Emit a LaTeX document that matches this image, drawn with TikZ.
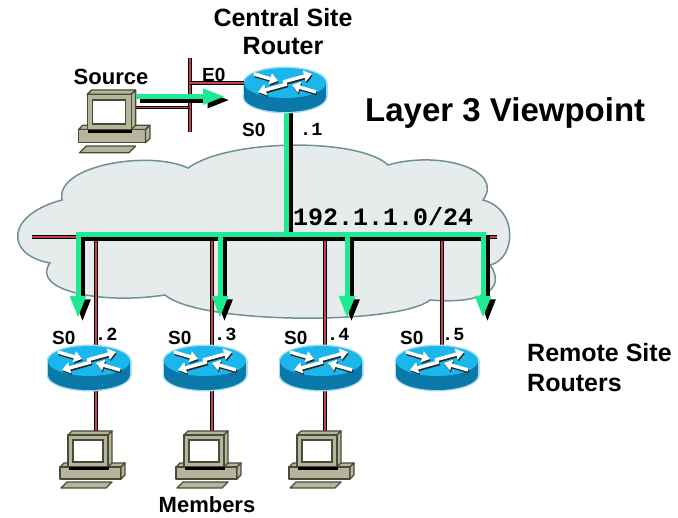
\documentclass[tikz,border=0pt]{standalone}
\usepackage{fontspec}
\setmainfont{Liberation Sans}
\setmonofont{Liberation Mono}
\usepackage{tikz}
\usetikzlibrary{arrows.meta,calc,positioning}
\definecolor{Flow}{HTML}{1FEA94}
\definecolor{Cable}{HTML}{C4424E}
\definecolor{CloudFill}{HTML}{E6EBEB}
\definecolor{CloudLine}{HTML}{6F9094}
\definecolor{RtrTop}{HTML}{1AB6EC}
\definecolor{RtrSide}{HTML}{0A78A8}
\definecolor{RtrRim}{HTML}{A4DDF2}
\definecolor{PcBody}{HTML}{B5B59B}
\definecolor{PcLine}{HTML}{4A4A38}
\newcommand{\fs}[1]{\fontsize{#1}{#1}\selectfont\bfseries}
\newcommand{\fm}[1]{\fontsize{#1}{#1}\selectfont\ttfamily\bfseries}
\newcommand{\wire}[2]{\draw[wire] (#1) -- (#2); \draw[wirecore] (#1) -- (#2);}

\begin{document}
\begin{tikzpicture}[x=1pt,y=-1pt,
  lbl/.style={inner sep=0pt,font=\fs{19}},
  ip/.style={inner sep=0pt,font=\fm{18.5}},
  wire/.style={draw=black,line width=3.2pt},
  wirecore/.style={draw=Cable,line width=1.6pt},
  flow/.style={draw=Flow,line width=5pt,-{Triangle[length=22pt,width=15pt]}},
  flowsh/.style={flow,draw=black,transform canvas={shift={(4.5pt,-3.5pt)}}},
  rarr/.style={draw=white,line width=3.4pt,-{Triangle[length=8pt,width=11pt]}},
  rarrsh/.style={rarr,draw=black!85,transform canvas={shift={(0.8pt,-1.6pt)}}},
  pcpart/.style={fill=PcBody,draw=PcLine,line width=1.3pt,line join=round},
  router/.pic={
    \fill[RtrRim] (0,14) ellipse[x radius=42.5,y radius=16.5];
    \fill[RtrRim] (-42.5,0) rectangle (42.5,14);
    \fill[RtrRim] (0,0) ellipse[x radius=42.5,y radius=16.5];
    \fill[RtrSide] (0,14) ellipse[x radius=41,y radius=15];
    \fill[RtrSide] (-41,0) rectangle (41,14);
    \fill[RtrTop] (0,0) ellipse[x radius=41,y radius=15];
    \foreach \s in {rarrsh,rarr}{
      \draw[\s] (-2,-1) -- (27,-9);
      \draw[\s] (2,1) -- (-27,9);
      \draw[\s] (-31,-9) -- (-7,-2);
      \draw[\s] (31,9) -- (7,2);
    }
    \coordinate (-w) at (-41,0);
    \coordinate (-c) at (0,7);
  },
  pc/.pic={
    % desk unit and keyboard
    \filldraw[pcpart] (-36,30) -- (-32,26) -- (29,26) -- (25,30) -- cycle;
    \filldraw[pcpart] (-36,30) rectangle (25,42);
    \filldraw[pcpart] (25,30) -- (29,26) -- (29,38) -- (25,42) -- cycle;
    \filldraw[pcpart] (-29,45) -- (16,45) -- (10,51) -- (-35,51) -- cycle;
    % monitor
    \filldraw[pcpart] (-28,-2) -- (-24,-6) -- (16,-6) -- (12,-2) -- cycle;
    \filldraw[pcpart] (12,-2) -- (16,-6) -- (16,26) -- (12,30) -- cycle;
    \filldraw[pcpart] (-28,-2) rectangle (12,30);
    \filldraw[fill=white,draw=PcLine,line width=1.3pt] (-23,3) rectangle (7,25);
    \fill[black] (-27,30) rectangle (13,33);
    \coordinate (-out) at (16,0);
    \coordinate (-port) at (16,10);
  }
]
\useasboundingbox (0,0) rectangle (678,518);

% WAN cloud
\draw[fill=CloudFill,draw=CloudLine,line width=1.5pt]
  (50,263) .. controls (5,255) and (5,215) .. (62,200)
  .. controls (55,165) and (150,150) .. (188,168)
  .. controls (230,138) and (360,138) .. (388,165)
  .. controls (440,150) and (505,170) .. (483,200)
  .. controls (520,210) and (515,260) .. (490,265)
  .. controls (505,285) and (490,305) .. (430,300)
  .. controls (400,325) and (200,325) .. (165,295)
  .. controls (100,305) and (30,290) .. (50,263) -- cycle;

% taps on the shared segment
\coordinate (busL) at (32,237);
\coordinate (busR) at (497,237);
\foreach \i/\t/\g in {1/96/78,2/212/220,3/325/347,4/442/483}{
  \coordinate (tap\i) at (\t,239);
  \coordinate (j\i) at (\g,235);
  \coordinate (tip\i) at (\g,318);
}
\coordinate (e0t) at (190,58);
\coordinate (e0b) at (190,132);
\coordinate (e0in) at (225,96.6);
\coordinate (crdn) at (286,110);

% cables
\wire{busL}{busR}
\wire{e0t}{e0b}
\foreach \i in {1,2,3}{ \wire{tap\i}{tap\i |- 0,437} }
\wire{tap4}{tap4 |- 0,368}

% multicast flow, shadow first
\foreach \s in {flowsh,flow}{
  \draw[\s,-,line cap=rect] (crdn) -- (crdn |- j1);
  \draw[\s,-,line cap=rect] (j1) -- (j4);
  \foreach \i in {1,...,4} \draw[\s] (j\i) -- (tip\i);
}

% central site
\pic (cr) at (285,83) {router};
\wire{e0t |- cr-w}{cr-w}
\pic[scale=1.1] (src) at (118,96.6) {pc};
\wire{src-port}{src-port -| e0t}
\draw[flowsh] (src-out) -- (e0in);
\draw[flow] (src-out) -- (e0in);

% remote sites
\foreach \i/\c/\t/\d/\n in {1/89/96/2/2,2/205/212/5/3,3/321/325/5/4,4/437/442/3/5}{
  \pic (r\i) at (\c,361) {router};
  \node[lbl,anchor=base west] (s\i) at (\c-37,345) {S0};
  \node[ip,anchor=base west] (a\i) at (\t+\d-3,341) {.\n};
}
\foreach \i in {1,2,3}{ \pic (pc\i) at (tap\i |- 0,437) {pc}; }

% labels
\node[lbl,font=\fs{25},anchor=base] (ct1) at (283,27) {Central Site};
\node[lbl,font=\fs{25},anchor=base] (ct2) at (283,55) {Router};
\node[lbl,font=\fs{22},anchor=base] (srcl) at (111,85) {Source};
\node[lbl,anchor=base west] (e0) at (202,82) {E0};
\node[lbl,anchor=base west] (cs0) at (242,137) {S0};
\node[ip,anchor=base west] (ca) at (300,136) {.1};
\node[lbl,font=\fs{33},anchor=base west] (view) at (365,122) {Layer 3 Viewpoint};
\node[inner sep=0pt,font=\fm{25},anchor=base west] (net) at (293,226) {192.1.1.0/24};
\node[lbl,font=\fs{25},anchor=base west] (rs1) at (527,362) {Remote Site};
\node[lbl,font=\fs{25},anchor=base west] (rs2) at (527,392) {Routers};
\node[lbl,font=\fs{22},anchor=base] (mem) at (207,513) {Members};
\end{tikzpicture}
\end{document}
